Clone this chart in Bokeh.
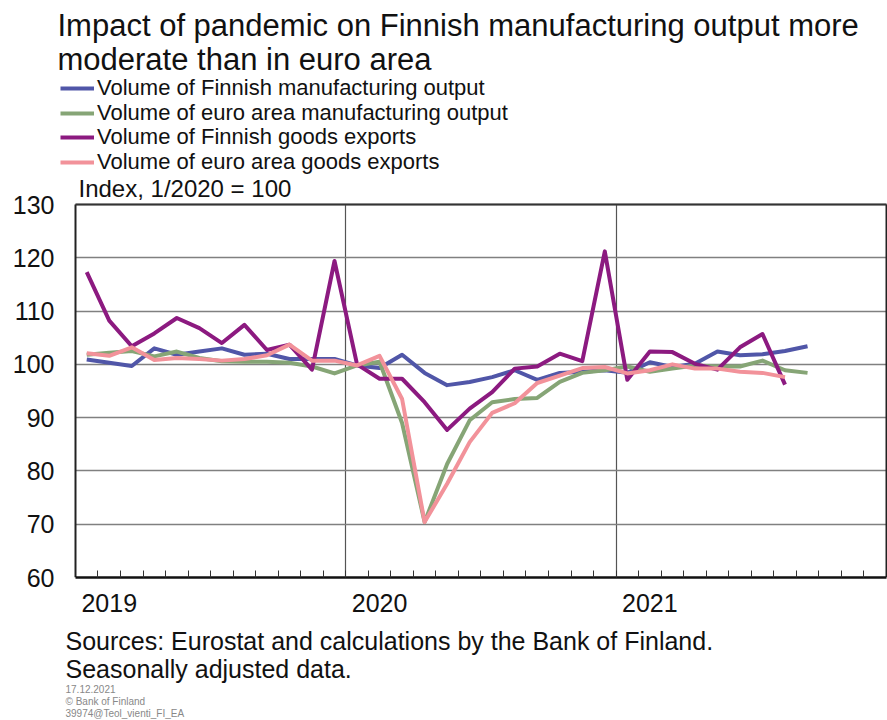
from bokeh.plotting import figure
from bokeh.layouts import column
from bokeh.models import (Range1d, FixedTicker, Legend, LegendItem, Label, Grid)
from bokeh.embed import file_html
from bokeh.resources import INLINE

# ---- data -------------------------------------------------------------
months = [
    "2019-01", "2019-02", "2019-03", "2019-04", "2019-05", "2019-06",
    "2019-07", "2019-08", "2019-09", "2019-10", "2019-11", "2019-12",
    "2020-01", "2020-02", "2020-03", "2020-04", "2020-05", "2020-06",
    "2020-07", "2020-08", "2020-09", "2020-10", "2020-11", "2020-12",
    "2021-01", "2021-02", "2021-03", "2021-04", "2021-05", "2021-06",
    "2021-07", "2021-08", "2021-09",
]
year_labels = ["2019", "2020", "2021"]
y_ticks = [60, 70, 80, 90, 100, 110, 120, 130]

fin_manuf = [100.9, 100.3, 99.7, 103.0, 101.8, 102.4, 103.0, 101.8, 102.0, 101.0,
             101.0, 101.0, 99.8, 99.3, 101.8, 98.4, 96.1, 96.7, 97.6, 98.9,
             97.1, 98.4, 98.6, 98.9, 98.4, 100.4, 99.5, 100.1, 102.4, 101.7,
             101.9, 102.5, 103.4]
ea_manuf = [101.8, 102.2, 102.5, 101.5, 102.4, 101.2, 100.6, 100.5, 100.5, 100.3,
            99.6, 98.3, 99.8, 100.5, 89.0, 70.4, 81.3, 89.5, 92.9, 93.5,
            93.7, 96.7, 98.4, 98.9, 99.6, 98.6, 99.2, 99.8, 99.6, 99.6,
            100.7, 98.9, 98.4]
fin_exports = [117.3, 108.2, 103.4, 105.8, 108.7, 106.8, 104.0, 107.4, 102.7, 103.7,
               99.0, 119.4, 100.0, 97.3, 97.3, 92.9, 87.7, 91.7, 94.8, 99.2,
               99.6, 102.0, 100.6, 121.2, 97.1, 102.4, 102.3, 100.1, 99.0, 103.2,
               105.7, 96.2]
ea_exports = [102.1, 101.6, 103.2, 100.8, 101.2, 101.0, 100.7, 101.0, 101.7, 103.7,
              100.7, 100.7, 99.8, 101.6, 93.5, 70.4, 77.6, 85.4, 90.9, 92.7,
              96.5, 97.9, 99.3, 99.5, 98.3, 98.9, 100.0, 99.2, 99.2, 98.6,
              98.4, 97.6]

series = [
    ("Volume of Finnish manufacturing output", fin_manuf, "#5056a8"),
    ("Volume of euro area manufacturing output", ea_manuf, "#86a576"),
    ("Volume of Finnish goods exports", fin_exports, "#8c1a80"),
    ("Volume of euro area goods exports", ea_exports, "#f2929a"),
]

title_lines = ["Impact of pandemic on Finnish manufacturing output more",
               "moderate than in euro area"]
unit_text = "Index, 1/2020 = 100"
source_lines = ["Sources: Eurostat and calculations by the Bank of Finland.",
                "Seasonally adjusted data."]
small_lines = ["17.12.2021", "\u00a9 Bank of Finland", "39974@Teol_vienti_FI_EA"]

FONT = "Liberation Sans"
N_MONTHS = 36
YEAR_START = [0, 12, 24]            # month index where each year begins
YEAR_LABEL_POS = [1.5, 13.5, 25.5]  # where the year names sit

# ---- layout (pixels, page coordinates) -----------------------------------
W, H = 887, 720
MAIN_H = 622
FRAME_L, FRAME_T, FRAME_B = 55, 0, 577      # frame edges of main figure
BOX_L, BOX_T = 75, 204                      # visible plot box (left / top)
px_per_month = (W - BOX_L) / N_MONTHS
x_start = -(BOX_L - FRAME_L) / px_per_month
x_end = N_MONTHS + 0.05
y_lo, y_hi = y_ticks[0], y_ticks[-1]
px_per_unit = (FRAME_B - BOX_T) / (y_hi - y_lo)
y_top = y_hi + (BOX_T - FRAME_T) / px_per_unit

p = figure(width=W, height=MAIN_H, output_backend="svg", toolbar_location=None,
           title=None, x_range=Range1d(x_start, x_end),
           y_range=Range1d(y_lo, y_top),
           min_border_left=FRAME_L, min_border_right=0, min_border_top=FRAME_T,
           min_border_bottom=MAIN_H - FRAME_B, background_fill_color="white",
           border_fill_color="white")
p.outline_line_color = None

renderers = []
for name, vals, col in series:
    xs = [months.index(m) + 0.5 for m in months[:len(vals)]]
    r = p.line(xs, vals, line_color=col, line_width=4, line_join="round")
    renderers.append((name, r))

# ---- axes ---------------------------------------------------------------
xa = p.xaxis[0]
xa.ticker = FixedTicker(ticks=YEAR_LABEL_POS, minor_ticks=list(range(1, N_MONTHS)))
xa.bounds = (0, N_MONTHS)
xa.major_label_overrides = {pos: lab for pos, lab in zip(YEAR_LABEL_POS, year_labels)}
xa.major_label_text_font = FONT
xa.major_label_text_font_size = "25px"
xa.major_label_text_color = "#111111"
xa.major_label_standoff = 16
xa.major_tick_in = 0
xa.major_tick_out = 0
xa.minor_tick_in = 7
xa.minor_tick_out = 0
xa.minor_tick_line_color = "#333333"
xa.axis_line_color = "#111111"
xa.axis_line_width = 2.5

ya = p.yaxis[0]
ya.ticker = FixedTicker(ticks=y_ticks)
ya.bounds = (y_lo, y_hi)
ya.major_label_text_font = FONT
ya.major_label_text_font_size = "25px"
ya.major_label_text_color = "#111111"
ya.major_label_standoff = 1
ya.major_tick_in = 0
ya.major_tick_out = 0
ya.minor_tick_in = 0
ya.minor_tick_out = 0
ya.axis_line_color = None

p.ygrid.grid_line_color = "#808080"
p.ygrid.grid_line_width = 1.5
p.xgrid.ticker = FixedTicker(ticks=YEAR_START[1:])
p.xgrid.grid_line_color = "#555555"
p.xgrid.grid_line_width = 1.2

vbox = Grid(dimension=0, ticker=FixedTicker(ticks=[0, N_MONTHS]),
            grid_line_color="#222222", grid_line_width=2)
hbox = Grid(dimension=1, ticker=FixedTicker(ticks=[y_hi]),
            grid_line_color="#333333", grid_line_width=2)
p.add_layout(vbox)
p.add_layout(hbox)
if "cross_bounds" in Grid.properties():
    p.ygrid.cross_bounds = (0, N_MONTHS)
    hbox.cross_bounds = (0, N_MONTHS)
    p.xgrid.cross_bounds = (y_lo, y_hi)
    vbox.cross_bounds = (y_lo, y_hi)


def sx(X):
    return X - FRAME_L


def sy(Y):
    return FRAME_B - Y


# ---- title, legend rows and unit label (inside the extended frame) -------
for txt, yc in zip(title_lines, [25, 59]):
    p.add_layout(Label(x=sx(57), y=sy(yc), x_units="screen", y_units="screen",
                       text=txt, text_font=FONT, text_font_size="31px",
                       text_color="#111111", text_baseline="middle",
                       text_align="left"))

LEG_FONT = 22
ROW_H = LEG_FONT * 1.15
for (name, r), yc in zip(renderers, [88.6, 113.1, 137.6, 162.1]):
    leg = Legend(items=[LegendItem(label=name, renderers=[r])],
                 location=(sx(60), FRAME_B - yc - ROW_H / 2),
                 orientation="vertical", glyph_width=34, glyph_height=20,
                 label_height=20, spacing=0, padding=0, margin=0,
                 label_standoff=3, label_text_font=FONT,
                 label_text_font_size=f"{LEG_FONT}px", label_text_color="#111111",
                 border_line_alpha=0, background_fill_alpha=0)
    p.add_layout(leg)

p.add_layout(Label(x=sx(78), y=sy(188), x_units="screen", y_units="screen",
                   text=unit_text, text_font=FONT, text_font_size="24px",
                   text_color="#111111", text_baseline="middle",
                   text_align="left"))

# ---- footer figure with the source notes ---------------------------------
FOOT_H = H - MAIN_H
f = figure(width=W, height=FOOT_H, output_backend="svg", toolbar_location=None,
           title=None, x_range=Range1d(0, W), y_range=Range1d(0, FOOT_H),
           x_axis_type=None, y_axis_type=None,
           min_border_left=0, min_border_right=0, min_border_top=0,
           min_border_bottom=0, background_fill_color="white",
           border_fill_color="white")
f.outline_line_color = None

# the column layout aligns the footer's frame with the main frame (left = FRAME_L)
for txt, yc in zip(source_lines, [640, 668]):
    f.add_layout(Label(x=sx(65), y=H - yc, x_units="screen", y_units="screen",
                       text=txt, text_font=FONT, text_font_size="25px",
                       text_color="#111111", text_baseline="middle",
                       text_align="left"))
for txt, yc in zip(small_lines, [688, 701, 713]):
    f.add_layout(Label(x=sx(65), y=H - yc, x_units="screen", y_units="screen",
                       text=txt, text_font=FONT, text_font_size="10px",
                       text_color="#888888", text_baseline="middle",
                       text_align="left"))

layout = column(p, f, spacing=0)
open("out.html", "w").write(file_html(layout, INLINE))
